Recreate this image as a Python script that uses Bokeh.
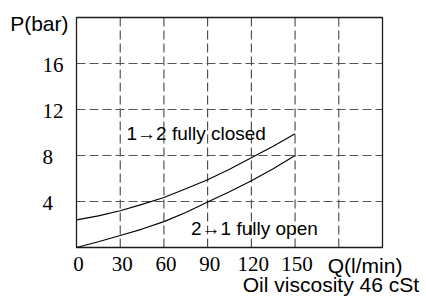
from bokeh.plotting import figure
from bokeh.models import Label, LabelSet, ColumnDataSource, Range1d
from bokeh.embed import file_html
from bokeh.resources import INLINE

# ---- data ----
flow = [0, 15, 30, 45, 60, 75, 90, 105, 120, 135, 150]
p_closed = [2.4, 2.75, 3.2, 3.75, 4.35, 5.1, 5.9, 6.8, 7.8, 8.8, 9.9]
p_open = [0.0, 0.5, 1.05, 1.6, 2.25, 3.05, 3.95, 4.85, 5.8, 6.85, 8.0]

q_ticks = [0, 30, 60, 90, 120, 150]
q_tick_labels = ["0", "30", "60", "90", "120", "150"]
q_grid = [30, 60, 90, 120, 150, 180]
p_ticks = [4, 8, 12, 16]
p_tick_labels = ["4", "8", "12", "16"]

Q_MIN, Q_MAX = 0, 210
P_MIN, P_MAX = 0, 20

# ---- layout (pixels) ----
W, H = 426, 300
M_L, M_R, M_T, M_B = 76, 44, 17, 53
sx = (W - M_L - M_R) / (Q_MAX - Q_MIN)
sy = (H - M_T - M_B) / (P_MAX - P_MIN)

FONT = "Liberation Sans"
AX_FS = "21px"
CURVE_FS = "19px"

p = figure(width=W, height=H,
           x_range=Range1d(Q_MIN - M_L / sx, Q_MAX + M_R / sx),
           y_range=Range1d(P_MIN - M_B / sy, P_MAX + M_T / sy),
           x_axis_location=None, y_axis_location=None,
           output_backend="svg", toolbar_location=None, min_border=0)
p.outline_line_color = None
p.background_fill_color = "white"
p.border_fill_color = "white"
p.xgrid.visible = False
p.ygrid.visible = False

# grid lines (dashed) inside the plot box
p.segment(x0=q_grid, y0=P_MIN, x1=q_grid, y1=P_MAX,
          line_color="#333333", line_width=1, line_dash="9 4")
p.segment(x0=Q_MIN, y0=p_ticks, x1=Q_MAX, y1=p_ticks,
          line_color="#555555", line_width=1, line_dash="9 4")

# plot box
p.quad(left=Q_MIN, right=Q_MAX, bottom=P_MIN, top=P_MAX,
       fill_color=None, line_color="#1a1a1a", line_width=1.3)

# curves
p.line(flow, p_closed, line_color="black", line_width=1.1)
p.line(flow, p_open, line_color="black", line_width=1.1)

# x tick labels
xsrc = ColumnDataSource(dict(x=q_ticks, text=q_tick_labels))
p.add_layout(LabelSet(x="x", y=P_MIN, text="text", source=xsrc,
                      x_offset=2, y_offset=-23.5,
                      text_align="center", text_baseline="alphabetic",
                      text_font=FONT, text_font_size=AX_FS, text_color="black"))

# y tick labels (left aligned as in reference)
ysrc = ColumnDataSource(dict(y=p_ticks, text=p_tick_labels))
p.add_layout(LabelSet(x=Q_MIN, y="y", text="text", source=ysrc,
                      x_offset=-34, y_offset=-8.6,
                      text_align="left", text_baseline="alphabetic",
                      text_font=FONT, text_font_size=AX_FS, text_color="black"))

# axis titles
p.add_layout(Label(x=Q_MIN, y=P_MAX, x_offset=-8, y_offset=-5.5, text="P(bar)",
                   text_align="right", text_baseline="alphabetic",
                   text_font=FONT, text_font_size=AX_FS, text_color="black"))
p.add_layout(Label(x=180, y=P_MIN, x_offset=-11, y_offset=-18.3, text="Q(l/min)",
                   text_align="left", text_baseline="alphabetic",
                   text_font=FONT, text_font_size=AX_FS, text_color="black"))
p.add_layout(Label(x=Q_MAX, y=P_MIN, x_offset=36.5, y_offset=-37.2,
                   text="Oil viscosity 46 cSt",
                   text_align="right", text_baseline="alphabetic",
                   text_font=FONT, text_font_size=AX_FS, text_color="black"))

# curve labels
p.add_layout(Label(x=34.3, y=9.9, text="1→2 fully closed",
                   text_align="left", text_baseline="alphabetic",
                   text_font=FONT, text_font_size=CURVE_FS, text_color="black"))
p.add_layout(Label(x=78.6, y=1.64, text="2→1 fully open",
                   text_align="left", text_baseline="alphabetic",
                   text_font=FONT, text_font_size=CURVE_FS, text_color="black"))

open("out.html", "w").write(file_html(p, INLINE))
